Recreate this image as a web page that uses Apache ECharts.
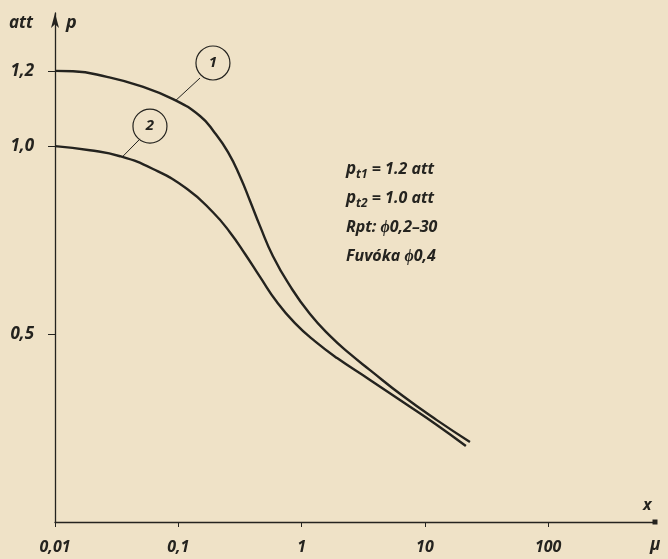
<!DOCTYPE html>
<html>
<head>
<meta charset="utf-8">
<script src="https://cdn.jsdelivr.net/npm/echarts@6/dist/echarts.min.js"></script>
<style>
  html, body { margin: 0; padding: 0; background: #efe2c7; }
  #graph { width: 668px; height: 559px; }
</style>
</head>
<body>
<div id="graph"></div>
<script>
// x: mu (log), y: p in att
var xTicks = [0.01, 0.1, 1, 10, 100];
var yTicks = [0.5, 1.0, 1.2];

var curve1X = [0.01, 0.014, 0.0264, 0.0489, 0.0906, 0.150, 0.198, 0.253, 0.316, 0.382, 0.460, 0.586, 0.805, 1.17, 1.70, 2.47, 3.59, 6.64, 12.5, 23.2];
var curve1Y = [1.2, 1.199, 1.184, 1.160, 1.125, 1.080, 1.035, 0.984, 0.920, 0.854, 0.787, 0.707, 0.628, 0.553, 0.495, 0.447, 0.404, 0.335, 0.271, 0.213];

var curve2X = [0.01, 0.0192, 0.0337, 0.0624, 0.118, 0.191, 0.262, 0.348, 0.460, 0.631, 0.883, 1.28, 1.94, 3.59, 6.64, 12.5, 21.5];
var curve2Y = [1.0, 0.989, 0.973, 0.939, 0.886, 0.824, 0.771, 0.713, 0.652, 0.585, 0.529, 0.481, 0.436, 0.378, 0.319, 0.258, 0.202];

var notes = [
    '{p|p}{s|t1}{n| = 1.2 att}',
    '{p|p}{s|t2}{n| = 1.0 att}',
    '{n|Rpt: ϕ0,2–30}',
    '{n|Fuvóka ϕ0,4}'
];

function pairs(xs, ys) {
    var out = [];
    for (var i = 0; i < xs.length; i++) out.push([xs[i], ys[i]]);
    return out;
}

var ink = '#24231f';
var font = 'Open Sans';

var richStyle = {
    p: { fontSize: 17, fontStyle: 'italic', fontWeight: 'bold', color: ink, fontFamily: font },
    s: { fontSize: 12, fontStyle: 'italic', fontWeight: 'bold', color: ink, fontFamily: font, padding: [10, 0, 0, 0] },
    n: { fontSize: 16, fontStyle: 'italic', fontWeight: 'bold', color: ink, fontFamily: font }
};

var circleLabel = {
    show: true,
    color: ink,
    fontSize: 15,
    fontStyle: 'italic',
    fontWeight: 'bold',
    fontFamily: font
};

var myChart = echarts.init(document.getElementById('graph'));
var option = {
    backgroundColor: '#efe2c7',
    animation: false,
    grid: { left: 55, right: 13, top: 13, bottom: 37, containLabel: false },
    xAxis: {
        type: 'log',
        logBase: 10,
        min: 0.01,
        max: 735,
        axisLine: {
            show: true,
            symbol: ['none', 'rect'],
            symbolSize: [5, 5],
            lineStyle: { color: ink, width: 1.3 }
        },
        axisTick: { show: true, length: 5, customValues: xTicks, lineStyle: { color: ink } },
        minorTick: { show: false },
        splitLine: { show: false },
        axisLabel: {
            customValues: xTicks,
            margin: 17,
            color: ink,
            fontSize: 16,
            fontStyle: 'italic',
            fontWeight: 'bold',
            fontFamily: font,
            formatter: function (v) { return String(v).replace('.', ','); }
        }
    },
    yAxis: {
        type: 'value',
        min: 0,
        max: 1.354,
        axisLine: {
            show: true,
            symbol: ['none', 'arrow'],
            symbolSize: [6, 15],
            lineStyle: { color: ink, width: 1.3 }
        },
        axisTick: { show: true, length: 7, customValues: yTicks, lineStyle: { color: ink } },
        splitLine: { show: false },
        axisLabel: {
            customValues: yTicks,
            margin: 21,
            color: ink,
            fontSize: 17,
            fontStyle: 'italic',
            fontWeight: 'bold',
            fontFamily: font,
            formatter: function (v) { return v.toFixed(1).replace('.', ','); }
        }
    },
    graphic: [
        { type: 'text', left: 9, top: 15, style: { text: 'att', fill: ink, font: 'italic bold 17px "Open Sans"' } },
        { type: 'text', left: 66, top: 14, style: { text: 'p', fill: ink, font: 'italic bold 18px "Open Sans"' } },
        { type: 'text', left: 643, top: 497, style: { text: 'x', fill: ink, font: 'italic bold 16px "Open Sans"' } },
        { type: 'text', left: 650, top: 537, style: { text: 'μ', fill: ink, font: 'italic bold 17px "Open Sans"' } },
        {
            type: 'text', left: 346, top: 155,
            style: { text: notes.join('\n'), rich: richStyle, lineHeight: 29, fill: ink }
        }
    ],
    series: [
        {
            name: '1',
            type: 'line',
            smooth: 0.5,
            symbol: 'none',
            lineStyle: { color: ink, width: 2.4 },
            data: pairs(curve1X, curve1Y),
            markPoint: {
                symbol: 'circle',
                symbolSize: 34,
                itemStyle: { color: 'rgba(0,0,0,0)', borderColor: ink, borderWidth: 1.2 },
                label: circleLabel,
                data: [{ coord: [0.191, 1.221], value: '1' }]
            },
            markLine: {
                symbol: 'none',
                silent: true,
                label: { show: false },
                lineStyle: { color: ink, width: 1, type: 'solid' },
                data: [[{ coord: [0.150, 1.181] }, { coord: [0.0958, 1.122] }]]
            }
        },
        {
            name: '2',
            type: 'line',
            smooth: 0.5,
            symbol: 'none',
            lineStyle: { color: ink, width: 2.4 },
            data: pairs(curve2X, curve2Y),
            markPoint: {
                symbol: 'circle',
                symbolSize: 34,
                itemStyle: { color: 'rgba(0,0,0,0)', borderColor: ink, borderWidth: 1.2 },
                label: circleLabel,
                data: [{ coord: [0.0589, 1.053], value: '2' }]
            },
            markLine: {
                symbol: 'none',
                silent: true,
                label: { show: false },
                lineStyle: { color: ink, width: 1, type: 'solid' },
                data: [[{ coord: [0.0489, 1.019] }, { coord: [0.0356, 0.973] }]]
            }
        }
    ]
};
myChart.setOption(option);
</script>
</body>
</html>
